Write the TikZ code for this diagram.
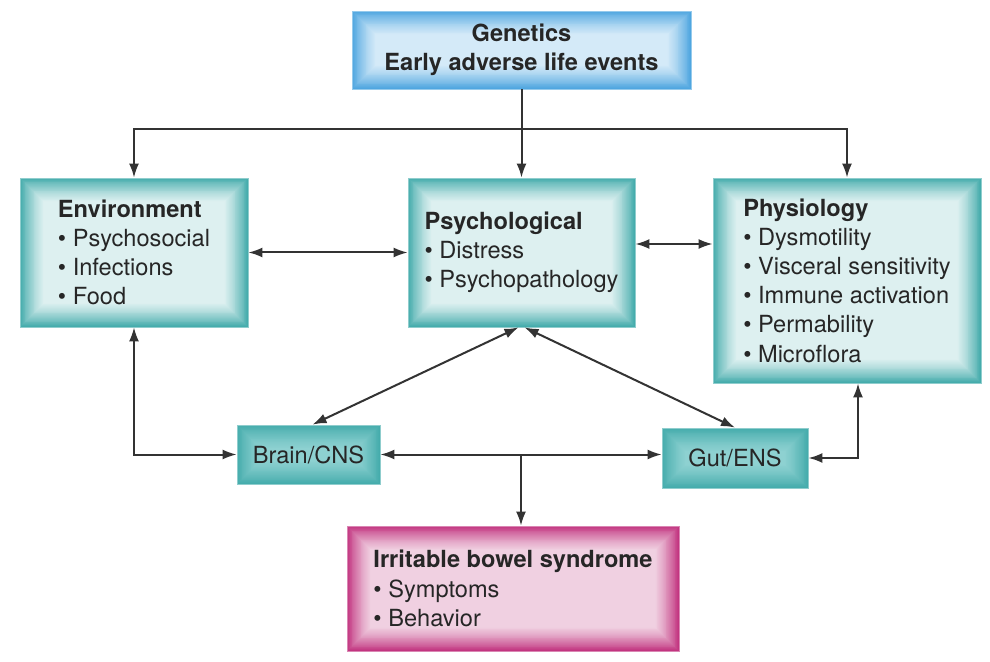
\documentclass[tikz,border=0pt]{standalone}
\usepackage{fontspec}
\setsansfont{TeX Gyre Heros}
\usetikzlibrary{arrows.meta, calc}
\definecolor{cTeal}{HTML}{45ACAC}
\definecolor{cTealC}{HTML}{DDF0F0}
\definecolor{cTealM}{HTML}{8ED1D1}
\definecolor{cBlue}{HTML}{4FA6E0}
\definecolor{cBlueC}{HTML}{D4EAF8}
\definecolor{cPink}{HTML}{C23580}
\definecolor{cPinkC}{HTML}{F0D0E1}
\definecolor{cInk}{HTML}{262626}
\definecolor{cLine}{HTML}{333333}

\tikzset{
  glow/.style 2 args={path picture={
      \foreach \i in {0,...,27}{
        \pgfmathtruncatemacro\pct{100*(1-\i/27)^1.3}
        \fill[#1!\pct!#2]
          ([shift={(\i*0.45pt,-\i*0.45pt)}]path picture bounding box.north west)
          rectangle ([shift={(-\i*0.45pt,\i*0.45pt)}]path picture bounding box.south east);
      }}},
}

\begin{document}
\begin{tikzpicture}[
    x=0.5pt, y=-0.5pt, font=\sffamily\fontsize{11.8}{14.6}\selectfont,
    box/.style={inner sep=0pt, align=left, text=cInk, draw=#1!60!white,
                line width=0.4pt},
    big/.style={box=cTeal, glow={cTeal}{cTealC}},
    small/.style={box=cTeal, glow={cTeal}{cTealM}, align=center},
    top/.style={box=cBlue, glow={cBlue}{cBlueC}, align=center},
    ibs/.style={box=cPink, glow={cPink}{cPinkC}},
    arr/.style={-{Latex[length=7pt,width=5pt]}, line width=1pt, cLine},
    dbl/.style={{Latex[length=7pt,width=5pt]}-{Latex[length=7pt,width=5pt]},
                line width=1pt, cLine},
]
\useasboundingbox (0,0) rectangle (990,662);

% ----- causes -----
\node[top, minimum width=169.5pt, minimum height=39pt] (gen) at (521.5,50)
      {\textbf{Genetics}\\\textbf{Early adverse life events}};

% ----- three domains -----
\node[big, minimum width=114pt, minimum height=74.5pt] (env) at (134,252.5)
      {\textbf{Environment}\\\textbullet\ Psychosocial\\\textbullet\ Infections\\\textbullet\ Food};

\node[big, minimum width=113.5pt, minimum height=74.5pt] (psy) at (521.5,252.5)
      {\textbf{Psychological}\\\textbullet\ Distress\\\textbullet\ Psychopathology};

\node[big, minimum width=134pt, minimum height=102.5pt] (phy) at (847,280.5)
      {\textbf{Physiology}\\\textbullet\ Dysmotility\\\textbullet\ Visceral sensitivity\\
       \textbullet\ Immune activation\\\textbullet\ Permability\\\textbullet\ Microflora};

% ----- brain-gut axis -----
\node[small, minimum width=71.5pt, minimum height=29.5pt] (brain) at (308.5,454.5) {Brain/CNS};
\node[small, minimum width=73pt, minimum height=30pt] (gut) at (735,458) {Gut/ENS};

% ----- outcome -----
\node[ibs, minimum width=166pt, minimum height=62.5pt] (ibsbox) at (513,588.5)
      {\textbf{Irritable bowel syndrome}\\\textbullet\ Symptoms\\\textbullet\ Behavior};

% ----- connectors -----
\coordinate (bar) at (521,129);
\draw[arr] (gen.south) -- (psy.north);
\draw[arr] (gen.south |- bar) -| (env.north);
\draw[arr] (gen.south |- bar) -| (phy.north);

\draw[dbl] (env.east) -- (psy.west);
\draw[dbl] ([yshift=4.25pt]psy.east) -- ([yshift=4.25pt]psy.east -| phy.west);

\draw[dbl] ([xshift=-1.5pt]psy.south) -- ([xshift=2pt]brain.north);
\draw[dbl] ([xshift=1.5pt]psy.south) -- (gut.north);

\draw[dbl] (env.south) |- (brain.west);
\draw[dbl] ([xshift=5.5pt]phy.south) |- (gut.east);
\draw[dbl] (brain.east) -- (brain.east -| gut.west);

\coordinate (split) at (brain.east -| bar);
\draw[arr] (split) -- (split |- ibsbox.north);

\end{tikzpicture}
\end{document}
